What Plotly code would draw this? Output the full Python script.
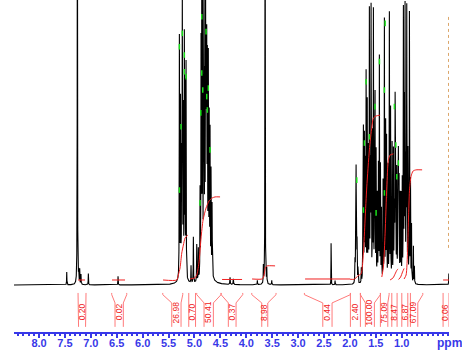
import numpy as np
import plotly.graph_objects as go

# ---------------- data ----------------
# peak list: chemical shift (ppm), intensity (relative), half width (ppm)
peak_ppm = [7.465, 7.26, 7.235, 7.215, 7.19, 7.048, 6.475,
            5.24, 5.291, 5.27, 5.245, 5.234, 5.215, 5.195, 5.18, 5.162,
            5.066, 5.021, 4.956, 4.925,
            4.75, 4.892, 4.873, 4.859, 4.844, 4.825, 4.815, 4.800, 4.786, 4.776, 4.763,
            4.751, 4.732, 4.715, 4.699, 4.680, 4.660,
            4.313, 4.249, 3.786, 3.670, 3.637, 3.604, 3.508, 2.363, 2.286,
            1.900, 1.887, 1.880, 1.872, 1.862, 1.845, 1.780, 1.750, 1.739, 1.720, 1.705,
            1.687, 1.665, 1.645, 1.624, 1.605, 1.591, 1.565, 1.546, 1.525, 1.514, 1.494,
            1.470, 1.450, 1.431, 1.410, 1.390, 1.360, 1.334, 1.310, 1.292, 1.265, 1.238,
            1.215, 1.185, 1.160, 1.141, 1.127, 1.114, 1.095, 1.075, 1.064, 1.050, 1.030,
            1.012, 0.990, 0.967, 0.950, 0.935, 0.915, 0.902, 0.880, 0.851, 0.830, 0.810,
            0.774, 0.755, 0.090]
peak_height = [4.5, 160, 4, 5, 3.5, 4, 3,
               6, 84, 60, 70, 92, 55, 82, 65, 75,
               6, 16, 13, 11,
               10, 30, 80, 94, 94, 70, 94, 60, 94, 89, 70,
               65, 69, 50, 47, 35, 25,
               2.5, 2, 1.5, 6, 160, 5, 1.5, 14.6, 1.5,
               12, 22, 35, 25, 14, 6, 5, 30, 52, 50, 40,
               72, 62, 45, 94, 55, 94, 50, 94, 40, 63, 45,
               30, 40, 78, 40, 25, 35, 92, 55, 50, 40, 94,
               60, 48, 45, 62, 61, 49, 38, 40, 43, 35, 30,
               30, 35, 94, 60, 94, 50, 94, 45, 94, 35, 20,
               13, 6, 4]
peak_width = [0.003, 0.003, 0.003, 0.003, 0.003, 0.003, 0.003,
              0.035, 0.003, 0.003, 0.003, 0.003, 0.003, 0.003, 0.003, 0.003,
              0.003, 0.003, 0.003, 0.003,
              0.05, 0.003, 0.003, 0.003, 0.003, 0.003, 0.003, 0.003, 0.003, 0.003, 0.003,
              0.003, 0.003, 0.003, 0.003, 0.003, 0.004,
              0.004, 0.004, 0.003, 0.003, 0.003, 0.003, 0.003, 0.002, 0.003,
              0.003, 0.003, 0.003, 0.003, 0.003, 0.003, 0.003, 0.003, 0.003, 0.003, 0.003,
              0.003, 0.003, 0.003, 0.003, 0.003, 0.003, 0.003, 0.003, 0.003, 0.003, 0.003,
              0.003, 0.003, 0.003, 0.003, 0.003, 0.003, 0.003, 0.003, 0.003, 0.003, 0.003,
              0.003, 0.003, 0.003, 0.003, 0.003, 0.003, 0.003, 0.003, 0.003, 0.003, 0.003,
              0.003, 0.003, 0.003, 0.003, 0.003, 0.003, 0.003, 0.003, 0.003, 0.003, 0.003,
              0.003, 0.003, 0.003]

# picked-peak marks (ppm, intensity)
pick_ppm = [5.291, 5.234, 5.195, 5.195, 5.259, 5.291, 5.162, 4.859, 4.776, 4.859, 4.840,
            4.878, 4.763, 4.732, 4.699, 4.892, 4.751, 1.687, 1.430, 1.514, 1.334, 1.867,
            1.720, 1.624, 1.141, 1.114, 1.064, 1.095, 1.334, 1.494, 1.320, 1.739]
pick_int = [83.6, 88.3, 80.7, 74.8, 55.5, 33.3, 73.1, 94.1, 88.9, 74.4, 68.4,
            60.4, 66.1, 69.1, 47.4, 28.8, 61.4, 71.3, 78.4, 62.6, 68.4, 36.8,
            49.8, 52.0, 62.6, 49.1, 42.8, 38.0, 32.3, 25.3, 91.8, 26.3]

# integration: labels, bracket edges (top-left, top-right, bottom-left, bottom-right, label position) in ppm
int_labels = ["0.20", "0.02", "26.98", "0.70", "50.41", "0.37", "8.98", "0.44",
              "2.40", "100.00", "75.09", "8.47", "6.87", "67.09", "0.06"]
int_top_left = [7.247, 6.597, 5.612, 5.110, 4.956, 4.486, 3.894, 2.878,
                1.990, 1.797, 1.411, 1.191, 0.998, 0.832, 0.201]
int_top_right = [7.093, 6.307, 5.226, 4.979, 4.486, 4.068, 3.425, 1.990,
                 1.797, 1.411, 1.243, 1.089, 0.882, 0.593, 0.087]
int_bot_left = [7.237, 6.533, 5.438, 5.110, 4.815, 4.346, 3.701, 2.523,
                1.990, 1.701, 1.411, 1.191, 0.998, 0.832, 0.201]
int_bot_right = [7.102, 6.373, 5.259, 4.979, 4.635, 4.197, 3.585, 2.344,
                 1.797, 1.527, 1.268, 1.089, 0.882, 0.689, 0.087]
int_label_pos = [7.170, 6.456, 5.355, 5.046, 4.728, 4.274, 3.643, 2.434,
                 1.900, 1.624, 1.340, 1.141, 0.934, 0.766, 0.150]

# integral curves (ppm, level)
curve_ppm = [
    [7.247, 7.112],
    [6.591, 6.340],
    [5.606, 5.342, 5.311, 5.278, 5.245, 5.214, 5.181, 5.129],
    [5.085, 4.988, 4.950, 4.911, 4.873, 4.834, 4.776, 4.718, 4.660, 4.602, 4.506],
    [4.467, 4.081],
    [3.888, 3.695, 3.666, 3.647, 3.627, 3.598, 3.444],
    [2.865, 1.996],
    [1.996, 1.919, 1.880, 1.842, 1.784, 1.739, 1.707, 1.674, 1.624, 1.577, 1.546, 1.494, 1.417],
    [1.384, 1.353, 1.320, 1.288, 1.257, 1.224, 1.160],
    [1.224, 1.166, 1.127, 1.089, 1.069],
    [1.060, 1.021, 0.983, 0.954],
    [0.954, 0.915, 0.886, 0.867, 0.847, 0.819, 0.780, 0.722, 0.606],
    [0.201, 0.087],
]
curve_level = [
    [1.75, 1.75],
    [1.75, 1.75],
    [1.75, 1.75, 3.5, 6.0, 11.2, 14.0, 16.5, 17.5],
    [2.1, 2.5, 3.9, 8.1, 16.5, 22.8, 27.0, 29.5, 30.5, 30.9, 30.9],
    [1.93, 1.93],
    [2.1, 2.1, 2.8, 4.6, 6.3, 6.7, 6.7],
    [2.1, 2.1],
    [2.0, 2.0, 2.5, 3.3, 3.9, 11.2, 22.8, 34.4, 47.4, 55.4, 58.6, 59.3, 59.6],
    [2.8, 6.3, 18.2, 34.4, 43.9, 45.6, 46.0],
    [1.75, 2.5, 3.9, 5.3, 5.6],
    [1.93, 2.8, 4.6, 5.8],
    [2.1, 3.5, 12.3, 24.6, 34.0, 38.2, 40.0, 40.4, 40.4],
    [1.75, 1.75],
]

tick_vals = [8.0, 7.5, 7.0, 6.5, 6.0, 5.5, 5.0, 4.5, 4.0, 3.5, 3.0, 2.5, 2.0, 1.5, 1.0]
tick_text = ["8.0", "7.5", "7.0", "6.5", "6.0", "5.5", "5.0", "4.5", "4.0",
             "3.5", "3.0", "2.5", "2.0", "1.5", "1.0"]

X_MAX, X_MIN = 8.483, 0.087
Y_MIN, Y_MAX = -16.5, 100.0

# ---------------- spectrum (Lorentzian lines from the peak list) ----------------
ppm = np.arange(X_MAX, X_MIN, -0.0004)
spec = np.zeros_like(ppm)
for p, h, w in zip(peak_ppm, peak_height, peak_width):
    spec += h * w * w / ((ppm - p) ** 2 + w * w)

BLUE = "#3838e8"
RED = "#f02020"
BRK = "#ff7a7a"

fig = go.Figure()
fig.add_trace(go.Scatter(x=ppm, y=spec, mode="lines",
                         line=dict(color="black", width=1.1), hoverinfo="skip"))

# integral curves
for cx, cy in zip(curve_ppm, curve_level):
    fig.add_trace(go.Scatter(x=cx, y=cy, mode="lines",
                             line=dict(color=RED, width=1, shape="spline", smoothing=0.6),
                             hoverinfo="skip"))

# peak pick marks
fig.add_trace(go.Scatter(x=pick_ppm, y=pick_int, mode="markers",
                         marker=dict(symbol="line-ns", size=4,
                                     line=dict(color="#19e019", width=1.5)),
                         hoverinfo="skip"))

# integration brackets
Y_TOP, Y_KINK, Y_BOT = -2.8, -6.3, -14.7
bx, by = [], []
for tl, tr, bl, br in zip(int_top_left, int_top_right, int_bot_left, int_bot_right):
    bx += [tl, tl, bl, bl, None, tr, tr, br, br, None]
    by += [Y_TOP, Y_TOP - 0.6, Y_KINK, Y_BOT, None, Y_TOP, Y_TOP - 0.6, Y_KINK, Y_BOT, None]
fig.add_trace(go.Scatter(x=bx, y=by, mode="lines", line=dict(color=BRK, width=1),
                         hoverinfo="skip", cliponaxis=False))

for lab, pos in zip(int_labels, int_label_pos):
    fig.add_annotation(x=pos, y=-9.6, xref="x", yref="y", text=lab, showarrow=False,
                       textangle=-90, font=dict(family="Liberation Sans", size=8.5, color=RED))

# dotted marker at right edge
fig.add_shape(type="line", x0=0.095, x1=0.095, y0=13, y1=95, xref="x", yref="y",
              line=dict(color="#d8a060", width=1, dash="dot"))

fig.add_annotation(x=0.36, y=-0.034, xref="x", yref="paper", text="ppm", showarrow=False,
                   xanchor="left", yanchor="middle",
                   font=dict(family="Liberation Sans", size=12, color=BLUE, weight="bold"))

fig.update_layout(
    width=462, height=355,
    margin=dict(l=14, r=13, t=0, b=23),
    paper_bgcolor="white", plot_bgcolor="white",
    showlegend=False,
    xaxis=dict(range=[X_MAX, X_MIN], showgrid=False, zeroline=False,
               showline=True, linecolor=BLUE, linewidth=2,
               ticks="outside", ticklen=4, tickwidth=2, tickcolor=BLUE,
               tickmode="array", tickvals=tick_vals, ticktext=tick_text,
               ticklabelstandoff=-4,
               tickfont=dict(family="Liberation Sans", size=11, color=BLUE, weight="bold"),
               minor=dict(tickmode="linear", tick0=0, dtick=0.1, ticks="outside",
                          ticklen=2, tickwidth=1.5, tickcolor=BLUE)),
    yaxis=dict(range=[Y_MIN, Y_MAX], visible=False, fixedrange=True),
)

fig.write_html("out.html")
